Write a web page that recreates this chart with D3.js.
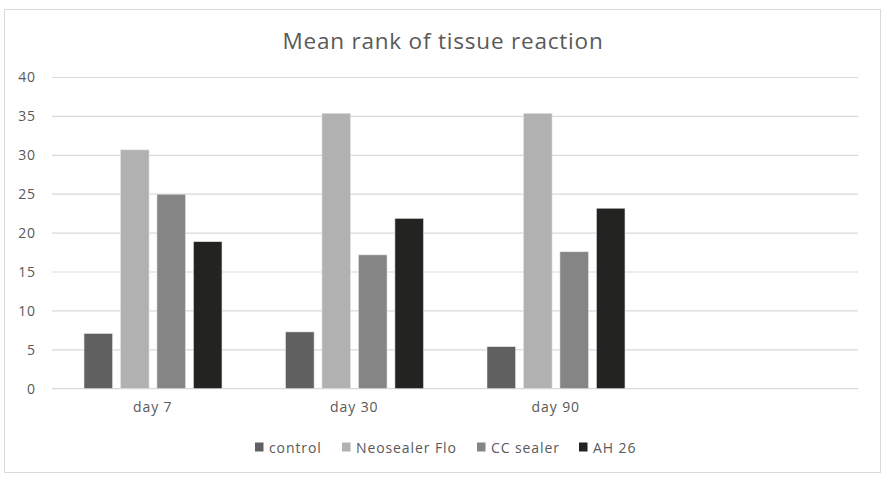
<!DOCTYPE html>
<html>
<head>
<meta charset="utf-8">
<script src="https://cdn.jsdelivr.net/npm/d3@7"></script>
<style>
  html, body { margin: 0; padding: 0; background: #fff; }
  svg { display: block; font-family: "Open Sans", sans-serif; }
</style>
</head>
<body>
<svg id="chart" width="886" height="480"></svg>
<script>
const categories = ["day 7", "day 30", "day 90", ""];
const seriesNames = ["control", "Neosealer Flo", "CC sealer", "AH 26"];
const control = [7.1, 7.3, 5.4];
const neosealer = [30.7, 35.4, 35.4];
const ccSealer = [25.0, 17.2, 17.6];
const ah26 = [18.9, 21.9, 23.2];
const yTicks = [0, 5, 10, 15, 20, 25, 30, 35, 40];
const colors = ["#606060", "#b1b1b1", "#858585", "#232321"];
const title = "Mean rank of tissue reaction";

const seriesValues = [control, neosealer, ccSealer, ah26];

const svg = d3.select("#chart");

// outer border
svg.append("rect")
  .attr("x", 4.5).attr("y", 9.5).attr("width", 876).attr("height", 463)
  .attr("fill", "#fff").attr("stroke", "#d9d9d9").attr("stroke-width", 1);

const plotLeft = 52, plotRight = 858, plotTop = 77.5, plotBottom = 388.7;

const x0 = d3.scaleBand().domain(categories).range([plotLeft, plotRight]).paddingInner(0).paddingOuter(0);
const x1 = d3.scaleBand().domain(seriesNames).range([32, 170]).paddingInner(0.216).paddingOuter(0);
const y = d3.scaleLinear().domain([0, 40]).range([plotBottom, plotTop]);

// gridlines
svg.append("g").selectAll("line").data(yTicks).join("line")
  .attr("x1", plotLeft).attr("x2", plotRight)
  .attr("y1", d => y(d)).attr("y2", d => y(d))
  .attr("stroke", "#d9d9d9").attr("stroke-width", 1.2);

// y axis labels
const yAxis = d3.axisLeft(y).tickValues(yTicks).tickSize(0).tickPadding(0);
const yg = svg.append("g").attr("transform", `translate(36,0)`).call(yAxis);
yg.select(".domain").remove();
yg.selectAll("text").attr("fill", "#595959")
  .style("font-size", "14px").style("letter-spacing", "0.9px")
  .style("font-family", "'Open Sans', sans-serif");

// x axis labels
const xAxis = d3.axisBottom(x0).tickSize(0).tickPadding(0).tickFormat(d => d);
const xg = svg.append("g").attr("transform", `translate(0,${plotBottom + 13})`).call(xAxis);
xg.select(".domain").remove();
xg.selectAll("text").attr("fill", "#595959")
  .style("font-size", "14px").style("letter-spacing", "0.9px")
  .style("font-family", "'Open Sans', sans-serif");

// bars
const groups = svg.append("g").selectAll("g")
  .data(categories.slice(0, 3))
  .join("g")
  .attr("transform", d => `translate(${x0(d)},0)`);

groups.selectAll("rect")
  .data((d, i) => seriesNames.map((s, j) => ({ s, j, v: seriesValues[j][i] })))
  .join("rect")
  .attr("x", d => x1(d.s))
  .attr("width", x1.bandwidth())
  .attr("y", d => y(d.v))
  .attr("height", d => plotBottom - y(d.v))
  .attr("fill", d => colors[d.j])
  .attr("stroke", "#e6e6e6").attr("stroke-width", 0.6);

// title
svg.append("text")
  .attr("x", 443).attr("y", 48.5)
  .attr("text-anchor", "middle")
  .attr("fill", "#595959")
  .style("font-size", "22.5px")
  .style("letter-spacing", "0.8px")
  .text(title);

// legend
const legendX = [255, 342, 477, 579];
const leg = svg.append("g");
seriesNames.forEach((s, i) => {
  const g = leg.append("g").attr("transform", `translate(${legendX[i]},0)`);
  g.append("rect").attr("x", 0).attr("y", 442.5).attr("width", 8.5).attr("height", 9).attr("fill", colors[i]);
  g.append("text").attr("x", 14).attr("y", 452.5).attr("fill", "#595959")
    .style("font-size", "14px").style("letter-spacing", "0.9px").text(s);
});
</script>
</body>
</html>
